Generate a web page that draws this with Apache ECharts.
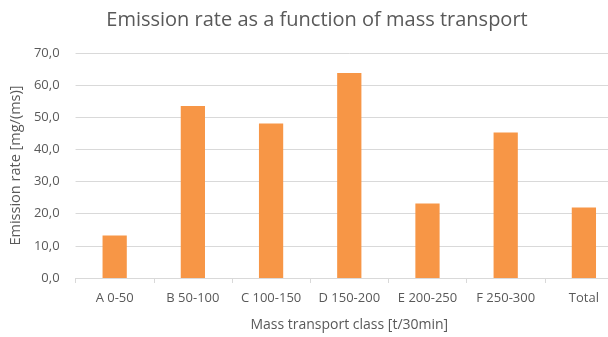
<!DOCTYPE html>
<html>
<head>
<meta charset="utf-8">
<script src="https://cdn.jsdelivr.net/npm/echarts@6/dist/echarts.min.js"></script>
<style>
  html, body { margin: 0; padding: 0; background: #ffffff; }
  /* the plot runs past the right edge of the frame, so the last gridlines are clipped */
  #frame { width: 608px; height: 337px; overflow: hidden; position: relative; }
  #chart { width: 623px; height: 337px; position: absolute; left: 0; top: 0; }
</style>
</head>
<body>
<div id="frame"><div id="chart"></div></div>
<script>
// Mass transport classes and their mean emission rates
const categories = ['A 0-50', 'B 50-100', 'C 100-150', 'D 150-200', 'E 200-250', 'F 250-300', 'Total'];
const emissionRates = [13.2, 53.5, 48.1, 63.8, 23.2, 45.3, 21.9];
const yTicks = { min: 0, max: 70, interval: 10 };

const textColor = '#595959';
const fontFamily = '"Open Sans", "Noto Sans", sans-serif';

const chart = echarts.init(document.getElementById('chart'), null, { renderer: 'canvas' });
chart.setOption({
  animation: false,
  backgroundColor: '#ffffff',
  title: {
    text: 'Emission rate as a function of mass transport',
    left: 312,
    textAlign: 'center',
    top: 5,
    textStyle: { fontFamily, fontSize: 20, fontWeight: 'normal', color: textColor }
  },
  grid: { left: 69, right: 0, top: 53, bottom: 54, containLabel: false },
  xAxis: {
    type: 'category',
    data: categories,
    name: 'Mass transport class [t/30min]',
    nameLocation: 'middle',
    nameGap: 40,
    nameTextStyle: { fontFamily, fontSize: 14, color: textColor },
    axisLine: { lineStyle: { color: '#d9d9d9', width: 1 } },
    axisTick: { show: true, length: 5, lineStyle: { color: '#d9d9d9' } },
    axisLabel: { fontFamily, fontSize: 13, color: textColor, margin: 14, interval: 0 }
  },
  yAxis: {
    type: 'value',
    min: yTicks.min,
    max: yTicks.max,
    interval: yTicks.interval,
    name: 'Emission rate [mg/(ms)]',
    nameLocation: 'middle',
    nameGap: 52,
    nameTextStyle: { fontFamily, fontSize: 14.5, color: textColor },
    axisLine: { show: false },
    axisTick: { show: false },
    axisLabel: {
      fontFamily, fontSize: 13, color: textColor, margin: 16,
      formatter: v => v.toFixed(1).replace('.', ',')
    },
    splitLine: { lineStyle: { color: '#d9d9d9', width: 1 } }
  },
  series: [{
    type: 'bar',
    data: emissionRates,
    barWidth: '31%',
    itemStyle: { color: '#F79646' }
  }]
});
</script>
</body>
</html>
